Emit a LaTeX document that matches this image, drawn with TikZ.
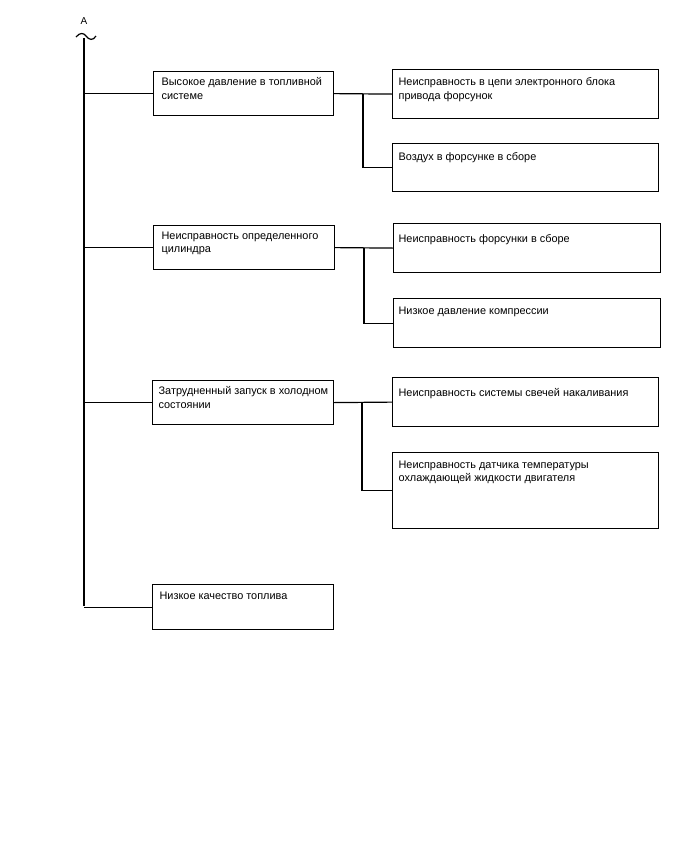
\documentclass[tikz,border=0pt]{standalone}
\usepackage{fontspec}
\setmainfont{Liberation Sans}
\begin{document}
\begin{tikzpicture}[x=1pt,y=-1pt,
  line width=1.2pt,
  box/.style={draw=black, line width=1.2pt, rectangle, anchor=north west, inner sep=0pt},
  txt/.style={anchor=north west, align=left, inner sep=0pt, font=\fontsize{10.9}{13.8}\selectfont},
  conn/.style={draw=black, line width=1.2pt}]
\useasboundingbox[fill=white] (0,0) rectangle (688,852);
% trunk
\node[font=\fontsize{10}{12}\selectfont, inner sep=0pt] (lblA) at (84,21) {A};
\coordinate (ttop) at (84,38);
\coordinate (tbot) at (84,606);
\coordinate (wl) at (76,37);
\coordinate (wr) at (96,36);
\draw[conn] (wl) .. controls (80,32) and (84,33) .. (86,36) .. controls (89,40) and (93,41) .. (wr);
\draw[conn] (ttop) -- (tbot);
% level 1 boxes
\node[box, minimum width=180, minimum height=44] (b1) at (153,71) {};
\node[txt] (b1t) at (161,77) {Высокое давление в топливной\\системе};
\node[box, minimum width=181, minimum height=44] (b2) at (153,225) {};
\node[txt] (b2t) at (161,231) {Неисправность определенного\\цилиндра};
\node[box, minimum width=181, minimum height=44] (b3) at (152,380) {};
\node[txt] (b3t) at (158,386) {Затрудненный запуск в холодном\\состоянии};
\node[box, minimum width=181, minimum height=45] (b4) at (152,584) {};
\node[txt] (b4t) at (159,591) {Низкое качество топлива};
% level 2 boxes
\node[box, minimum width=266, minimum height=49] (r1) at (392,69) {};
\node[txt] (r1t) at (398,77) {Неисправность в цепи электронного блока\\привода форсунок};
\node[box, minimum width=266, minimum height=48] (r2) at (392,143) {};
\node[txt] (r2t) at (398,152) {Воздух в форсунке в сборе};
\node[box, minimum width=267, minimum height=49] (r3) at (393,223) {};
\node[txt] (r3t) at (398,234) {Неисправность форсунки в сборе};
\node[box, minimum width=267, minimum height=49] (r4) at (393,298) {};
\node[txt] (r4t) at (398,306) {Низкое давление компрессии};
\node[box, minimum width=266, minimum height=49] (r5) at (392,377) {};
\node[txt] (r5t) at (398,388) {Неисправность системы свечей накаливания};
\node[box, minimum width=266, minimum height=76] (r6) at (392,452) {};
\node[txt] (r6t) at (398,460) {Неисправность датчика температуры\\охлаждающей жидкости двигателя};
% trunk connectors
\draw[conn] (b1.west) -- (b1.west -| ttop);
\draw[conn] (b2.west) -- (b2.west -| ttop);
\draw[conn] (b3.west) -- (b3.west -| ttop);
\draw[conn] (b4.west) -- (b4.west -| ttop);
% branch connectors
\coordinate (j1) at (363,0);
\coordinate (j2) at (364,0);
\coordinate (j3) at (362,0);
\draw[conn] (b1.east) -- (r1.west);
\draw[conn] (b1.east -| j1) |- (r2.west);
\draw[conn] (b2.east) -- (r3.west);
\draw[conn] (b2.east -| j2) |- (r4.west);
\draw[conn] (b3.east) -- (r5.west);
\draw[conn] (b3.east -| j3) |- (r6.west);
\end{tikzpicture}
\end{document}
